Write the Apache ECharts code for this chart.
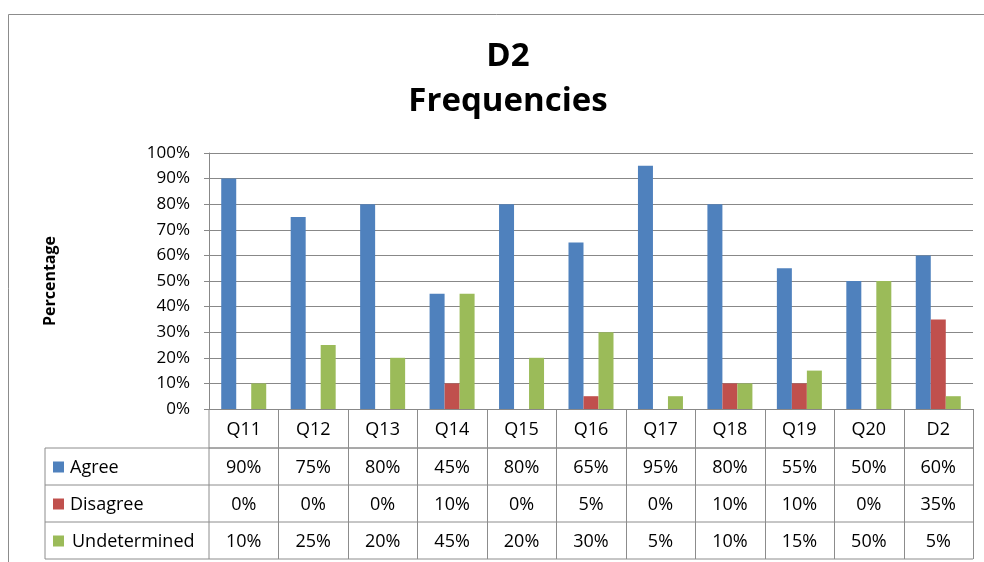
<!DOCTYPE html>
<html><head><meta charset="utf-8">
<script src="https://cdn.jsdelivr.net/npm/echarts@6/dist/echarts.min.js"></script>
<style>html,body{margin:0;padding:0;background:#fff}#c{width:984px;height:562px}</style>
</head><body><div id="c"></div>
<script>
const categories = ['Q11','Q12','Q13','Q14','Q15','Q16','Q17','Q18','Q19','Q20','D2'];
const agree = [90,75,80,45,80,65,95,80,55,50,60];
const disagree = [0,0,0,10,0,5,0,10,10,0,35];
const undetermined = [10,25,20,45,20,30,5,10,15,50,5];
const seriesNames = ['Agree','Disagree','Undetermined'];
const seriesData = [agree, disagree, undetermined];
const colors = ['#4F81BD','#C0504D','#9BBB59'];
const yTicks = [0,10,20,30,40,50,60,70,80,90,100];

const FONT = '"Open Sans", "Noto Sans", sans-serif';
const chart = echarts.init(document.getElementById('c'));
const gridLeft = 209, gridRight = 11, gridTop = 153, gridBottom = 153;
const option = {
  animation: false,
  textStyle: {fontFamily: FONT},
  title: {
    text: 'D2\nFrequencies', left: 503, textAlign: 'center', top: 29,
    textStyle: {fontSize: 33, fontWeight: 'bold', color: '#000', lineHeight: 45, fontFamily: FONT}
  },
  grid: {left: gridLeft, right: gridRight, top: gridTop, bottom: gridBottom},
  xAxis: {
    type: 'category', data: categories,
    axisLine: {show: true, lineStyle: {color: '#888', width: 1}},
    axisTick: {show: false}, axisLabel: {show: false}
  },
  yAxis: {
    type: 'value', min: yTicks[0], max: yTicks[yTicks.length - 1], interval: 10,
    name: 'Percentage', nameLocation: 'middle', nameGap: 151, nameRotate: 90,
    nameTextStyle: {fontSize: 16, fontWeight: 'bold', color: '#000', fontFamily: FONT},
    axisLine: {show: true, lineStyle: {color: '#888'}},
    axisTick: {show: true, length: 5, inside: false, lineStyle: {color: '#888'}},
    axisLabel: {formatter: v => v + '%', fontSize: 17, color: '#000', margin: 19, fontFamily: FONT},
    splitLine: {lineStyle: {color: '#888', width: 1}}
  },
  series: seriesNames.map((n, i) => ({
    name: n, type: 'bar', data: seriesData[i], barWidth: 15, barGap: '0%',
    itemStyle: {color: colors[i]}
  }))
};
chart.setOption(option);

// Data table drawn below the plot, aligned to the category axis
const g = [];
const lineColor = '#8c8c8c';
const rowY = [409, 448, 485, 522, 559];
const tableLeft = 45, tableRight = 973;
const catW = (984 - gridLeft - gridRight) / categories.length;
const xAt = i => chart.convertToPixel({xAxisIndex: 0}, categories[i]);
function line(x1, y1, x2, y2) {
  g.push({type: 'line', shape: {x1, y1, x2, y2}, style: {stroke: lineColor, lineWidth: 1}, silent: true});
}
function text(x, y, t, align) {
  g.push({type: 'text', x, y, style: {text: t, font: '18px ' + FONT, fill: '#000', align: align || 'center', verticalAlign: 'middle'}, silent: true});
}
line(gridLeft, rowY[1], tableRight, rowY[1]);
for (let r = 1; r < rowY.length; r++) line(tableLeft, rowY[r], tableRight, rowY[r]);
line(tableLeft, rowY[1], tableLeft, rowY[4]);
line(gridLeft, rowY[0], gridLeft, rowY[4]);
for (let i = 0; i < categories.length; i++) {
  const xr = Math.round(xAt(i) + catW / 2) + 0.5;
  line(xr, rowY[0], xr, rowY[4]);
}
categories.forEach((c, i) => text(xAt(i), (rowY[0] + rowY[1]) / 2 + 1, c));
seriesNames.forEach((n, r) => {
  const yc = (rowY[r + 1] + rowY[r + 2]) / 2 + 1;
  g.push({type: 'rect', shape: {x: 53, y: yc - 6, width: 11, height: 11}, style: {fill: colors[r]}, silent: true});
  text(r === 2 ? 72 : 70, yc, n, 'left');
  seriesData[r].forEach((v, i) => text(xAt(i), yc, v + '%'));
});
line(8.5, 14.5, 984, 14.5);
line(8.5, 14.5, 8.5, 562);
chart.setOption({graphic: g});
</script></body></html>
